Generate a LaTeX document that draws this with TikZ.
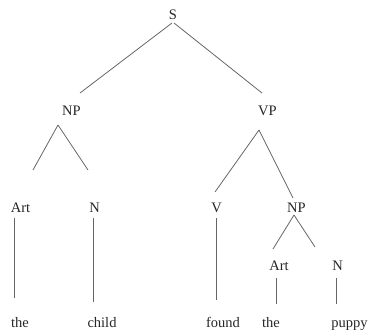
\documentclass[tikz,border=0pt]{standalone}
\usepackage{fontspec}
\setmainfont{Liberation Serif}
\usetikzlibrary{calc}

\begin{document}
\begin{tikzpicture}[
  x=1pt, y=-1pt,
  cat/.style={anchor=base, inner sep=0pt, text=black!85,
    font=\fontsize{14.5}{17}\selectfont},
  branch/.style={draw=black!60, line width=.8pt},
  ]
  \useasboundingbox (0,0) rectangle (369,329);
  % categories
  \node[cat] (S) at (173,20) {S};
  \node[cat] (NP) at (71.5,115) {NP};
  \node[cat] (VP) at (267.5,115) {VP};
  \node[cat] (Art) at (20.5,212) {Art};
  \node[cat] (N) at (94.5,212) {N};
  \node[cat] (V) at (216.5,212) {V};
  \node[cat] (NPb) at (296.5,212) {NP};
  \node[cat] (Artb) at (279,270) {Art};
  \node[cat] (Nb) at (337.5,270) {N};
  % words
  \node[cat] (the) at (20,327) {the};
  \node[cat] (child) at (102,327) {child};
  \node[cat] (found) at (223,327) {found};
  \node[cat] (theb) at (271,327) {the};
  \node[cat] (puppy) at (349.5,327) {puppy};
  % branches
  \draw[branch] ([shift={(-1,3)}]S.base) -- ([shift={(8.5,-22)}]NP.base);
  \draw[branch] ([shift={(1,3)}]S.base) -- ([shift={(-5.5,-22)}]VP.base);
  \draw[branch] ([shift={(-13.5,10)}]NP.base) -- ([shift={(12.5,-42)}]Art.base);
  \draw[branch] ([shift={(-13.5,10)}]NP.base) -- ([shift={(-6.5,-42)}]N.base);
  \draw[branch] ([shift={(-8.5,15)}]VP.base) -- ([shift={(-1.5,-20)}]V.base);
  \draw[branch] ([shift={(-8.5,15)}]VP.base) -- ([shift={(-3.5,-14)}]NPb.base);
  \draw[branch] ([shift={(-2.5,3)}]NPb.base) -- ([shift={(-6,-21)}]Artb.base);
  \draw[branch] ([shift={(-2.5,3)}]NPb.base) -- ([shift={(-22.5,-23)}]Nb.base);
  % leaves
  \draw[branch] ([shift={(-6.5,6)}]Art.base) -- ([shift={(-6,-29)}]the.base);
  \draw[branch] ([shift={(-1.5,6)}]N.base) -- ([shift={(-9,-25)}]child.base);
  \draw[branch] ([shift={(-0.5,6)}]V.base) -- ([shift={(-7,-27)}]found.base);
  \draw[branch] ([shift={(-3,8)}]Artb.base) -- ([shift={(5,-23)}]theb.base);
  \draw[branch] ([shift={(-1.5,8)}]Nb.base) -- ([shift={(-13.5,-23)}]puppy.base);
\end{tikzpicture}
\end{document}
